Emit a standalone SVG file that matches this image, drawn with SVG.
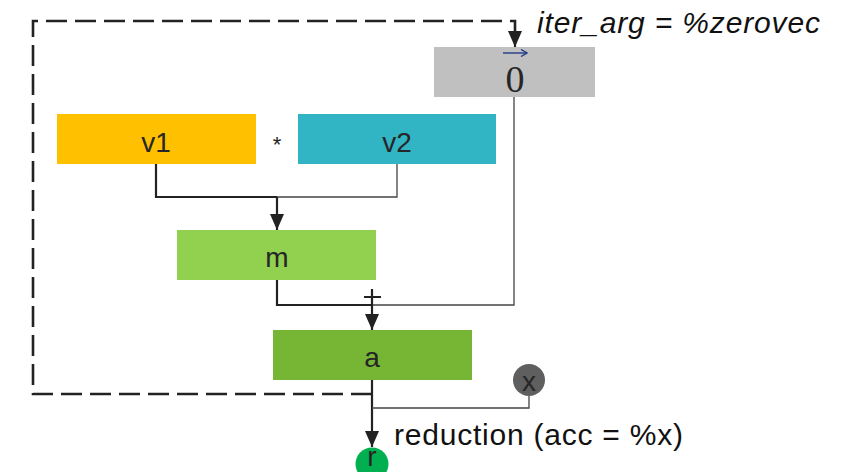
<svg xmlns="http://www.w3.org/2000/svg" width="846" height="472" viewBox="0 0 846 472">
<style>
.lbl{font-family:"Liberation Sans",Arial,sans-serif;font-size:28px;fill:#262626;text-anchor:middle}
.ann{font-family:"Liberation Sans",Arial,sans-serif;font-size:30px;fill:#111}
.thick{fill:none;stroke:#222;stroke-width:2.2}
.thin{fill:none;stroke:#444;stroke-width:1.3}
.dash{fill:none;stroke:#222;stroke-width:2.6;stroke-dasharray:21 8}
</style>
<defs>
<marker id="ah" markerUnits="userSpaceOnUse" markerWidth="16" markerHeight="14" viewBox="0 0 16 14" refX="16" refY="7" orient="auto">
<path d="M0,0 L16,7 L0,14 z" fill="#222"/>
</marker>
<marker id="bh" markerUnits="userSpaceOnUse" markerWidth="8" markerHeight="8" viewBox="0 0 8 8" refX="7" refY="4" orient="auto">
<path d="M1,0.5 L7,4 L1,7.5" fill="none" stroke="#1F3C88" stroke-width="1.4"/>
</marker>
</defs>
<rect width="846" height="472" fill="#fff"/>
<g id="connectors">
<path class="dash" d="M372,394 H33 V21 H515 V33"/>
<path d="M515,33 V47" class="thick" marker-end="url(#ah)"/>
<path class="thick" d="M156,164 V197 H277"/>
<path class="thin" d="M397,164 V197 H277"/>
<path class="thick" d="M277,197 V230" marker-end="url(#ah)"/>
<path class="thick" d="M277,280 V305 H372"/>
<path class="thin" d="M514,97 V305 H372"/>
<path class="thick" d="M372,305 V330" marker-end="url(#ah)"/>
<path class="thick" d="M372,380 V447" marker-end="url(#ah)"/>
<path class="thin" d="M529,396 V408 H372"/>
<path d="M372,289 V305 M364,297 H381" fill="none" stroke="#222" stroke-width="2.2"/>
</g>
<g id="zero">
<rect x="434" y="47" width="161" height="50" fill="#C0C0C0"/>
<text x="515" y="92" font-family="'Liberation Serif','Times New Roman',serif" font-size="38" fill="#262626" text-anchor="middle">0</text>
<path d="M503,53 H527" fill="none" stroke="#1F3C88" stroke-width="1.4" marker-end="url(#bh)"/>
</g>
<g id="v1">
<rect x="57" y="114" width="199" height="50" fill="#FFC000"/>
<text class="lbl" x="156" y="152">v1</text>
</g>
<text x="277" y="152" font-family="'Liberation Sans',Arial,sans-serif" font-size="22" fill="#222" text-anchor="middle">*</text>
<g id="v2">
<rect x="298" y="114" width="198" height="50" fill="#31B5C4"/>
<text class="lbl" x="397" y="152">v2</text>
</g>
<g id="m">
<rect x="177" y="230" width="199" height="50" fill="#92D050"/>
<text class="lbl" x="277" y="267">m</text>
</g>
<g id="a">
<rect x="273" y="330" width="199" height="50" fill="#77B535"/>
<text class="lbl" x="372" y="367">a</text>
</g>
<g id="x">
<circle cx="529" cy="380" r="16" fill="#5F5F5F"/>
<text class="lbl" x="529" y="391" font-size="26">x</text>
</g>
<g id="r">
<circle cx="372" cy="464" r="16.5" fill="#00B050"/>
<text class="lbl" x="372" y="466" font-size="24">r</text>
</g>
<text class="ann" x="537" y="33" font-style="italic" textLength="283">iter_arg = %zerovec</text>
<text class="ann" x="394" y="445" textLength="289">reduction (acc = %x)</text>
</svg>
